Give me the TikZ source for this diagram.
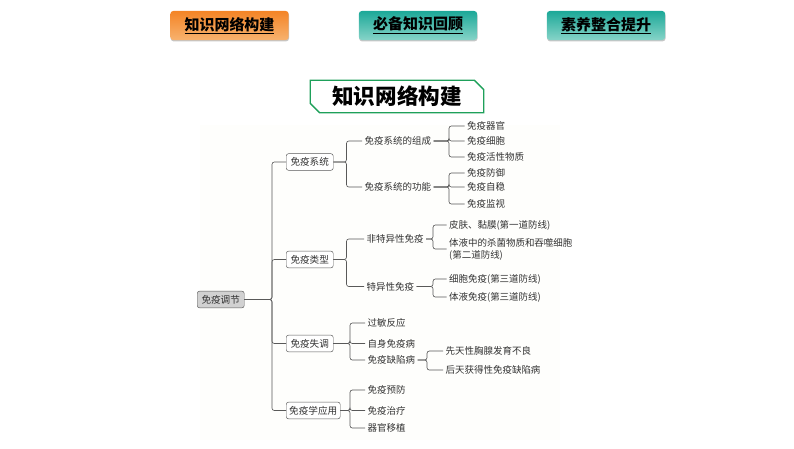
\documentclass[tikz,border=0pt]{standalone}
\usepackage{fontspec}
\setmainfont{Noto Sans CJK SC}
\usepackage{xcolor}
\definecolor{tabOrangeTop}{RGB}{244,132,38}
\definecolor{tabOrangeLow}{RGB}{247,178,110}
\definecolor{tabTealTop}{RGB}{28,168,152}
\definecolor{tabTealLow}{RGB}{134,212,200}
\definecolor{titleGreen}{RGB}{30,160,90}
\definecolor{panelTint}{RGB}{254,254,252}
\usetikzlibrary{positioning}
\usetikzlibrary{shadows}
\usetikzlibrary{shapes.misc}
\tikzset{
  tabbox/.style={rounded corners=2.5pt, minimum width=3.55cm, minimum height=0.87cm, inner sep=0pt,
    drop shadow={shadow xshift=0.3pt, shadow yshift=-1.2pt, opacity=0.45},
    font=\fontsize{12.8}{14}\selectfont\bfseries},
  tabhot/.style={tabbox, top color=tabOrangeTop, bottom color=tabOrangeLow},
  tabcold/.style={tabbox, top color=tabTealTop, bottom color=tabTealLow},
  titlebox/.style={draw=titleGreen, line width=1.1pt, fill=white, chamfered rectangle,
    chamfered rectangle corners={north east,south west}, chamfered rectangle xsep=4pt, chamfered rectangle ysep=4pt,
    minimum width=5.2cm, minimum height=0.98cm, inner sep=0pt, font=\fontsize{18.4}{20}\selectfont\bfseries},
  mapbox/.style={draw=black!65, rounded corners=2pt, fill=white, minimum width=1.41cm, minimum height=0.5cm,
    inner sep=0pt, text=black!80, font=\fontsize{8.2}{10}\selectfont},
  leaf/.style={anchor=west, inner sep=2pt, text=black!80, align=left, font=\fontsize{8.1}{10.2}\selectfont},
  link/.style={draw=black!65, line width=0.55pt, rounded corners=2pt},
  elbow/.style={to path={-- (\tikztostart -| #1) |- (\tikztotarget)}},
}
\begin{document}
\begin{tikzpicture}[x=0.03cm,y=-0.03cm]
\useasboundingbox (0,0) rectangle (794,448);
\fill[panelTint] (200,125) rectangle (560,440);

% tabs
\node[tabhot] (tabA) at (229.5,25.5) {\underline{知识网络构建}};
\node[tabcold] (tabB) at (418,25.5) {\underline{必备知识回顾}};
\node[tabcold] (tabC) at (606,25.5) {\underline{素养整合提升}};

% title
\node[titlebox] (title) at (397,96.5) {知识网络构建};

% main boxes
\node[mapbox, fill=black!18, anchor=west] (root) at (197,299.5) {免疫调节};
\node[mapbox, anchor=west] (sys) at (286,162) {免疫系统};
\node[mapbox, anchor=west] (kind) at (286,259.5) {免疫类型};
\node[mapbox, anchor=west] (fault) at (286,343.5) {免疫失调};
\node[mapbox, anchor=west, minimum width=1.62cm] (use) at (286,410.5) {免疫学应用};

% immune system
\node[leaf] (parts) at (362,141) {免疫系统的组成};
\node[leaf] (funcs) at (362,187) {免疫系统的功能};
\node[leaf] (p1) at (464.5,126) {免疫器官};
\node[leaf] (p2) at (464.5,141) {免疫细胞};
\node[leaf] (p3) at (464.5,157) {免疫活性物质};
\node[leaf] (f1) at (464.5,173) {免疫防御};
\node[leaf] (f2) at (464.5,187) {免疫自稳};
\node[leaf] (f3) at (464.5,204) {免疫监视};

% immune types
\node[leaf] (innate) at (364,239) {非特异性免疫};
\node[leaf] (adapt) at (364,286.5) {特异性免疫};
\node[leaf] (i1) at (446.5,225) {皮肤、黏膜(第一道防线)};
\node[leaf] (i2) at (446.5,249) {体液中的杀菌物质和吞噬细胞\\(第二道防线)};
\node[leaf] (a1) at (446.5,279) {细胞免疫(第三道防线)};
\node[leaf] (a2) at (446.5,297) {体液免疫(第三道防线)};

% faults
\node[leaf] (d1) at (365,323) {过敏反应};
\node[leaf] (d2) at (365,343.5) {自身免疫病};
\node[leaf] (d3) at (365,360) {免疫缺陷病};
\node[leaf] (d31) at (443,351) {先天性胸腺发育不良};
\node[leaf] (d32) at (443,370) {后天获得性免疫缺陷病};

% applications
\node[leaf] (u1) at (365,390) {免疫预防};
\node[leaf] (u2) at (365,410.5) {免疫治疗};
\node[leaf] (u3) at (365,428) {器官移植};

% bus lines
\coordinate (busA) at (272,0);
\coordinate (busB) at (346.5,0);
\coordinate (busC) at (449,0);
\coordinate (busD) at (433,0);
\coordinate (busE) at (350,0);
\coordinate (busF) at (427,0);

\draw[link] (root.east) to[elbow=busA] (sys.west);
\draw[link] (root.east) to[elbow=busA] (kind.west);
\draw[link] (root.east) to[elbow=busA] (fault.west);
\draw[link] (root.east) to[elbow=busA] (use.west);

\draw[link] (sys.east) to[elbow=busB] (parts.west);
\draw[link] (sys.east) to[elbow=busB] (funcs.west);
\draw[link] (parts.east) to[elbow=busC] (p1.west);
\draw[link] (parts.east) to[elbow=busC] (p2.west);
\draw[link] (parts.east) to[elbow=busC] (p3.west);
\draw[link] (funcs.east) to[elbow=busC] (f1.west);
\draw[link] (funcs.east) to[elbow=busC] (f2.west);
\draw[link] (funcs.east) to[elbow=busC] (f3.west);

\draw[link] (kind.east) to[elbow=busB] (innate.west);
\draw[link] (kind.east) to[elbow=busB] (adapt.west);
\draw[link] (innate.east) to[elbow=busD] (i1.west);
\draw[link] (innate.east) to[elbow=busD] (i2.west);
\draw[link] (adapt.east) to[elbow=busD] (a1.west);
\draw[link] (adapt.east) to[elbow=busD] (a2.west);

\draw[link] (fault.east) to[elbow=busE] (d1.west);
\draw[link] (fault.east) to[elbow=busE] (d2.west);
\draw[link] (fault.east) to[elbow=busE] (d3.west);
\draw[link] (d3.east) to[elbow=busF] (d31.west);
\draw[link] (d3.east) to[elbow=busF] (d32.west);

\draw[link] (use.east) to[elbow=busE] (u1.west);
\draw[link] (use.east) to[elbow=busE] (u2.west);
\draw[link] (use.east) to[elbow=busE] (u3.west);

\end{tikzpicture}
\end{document}
